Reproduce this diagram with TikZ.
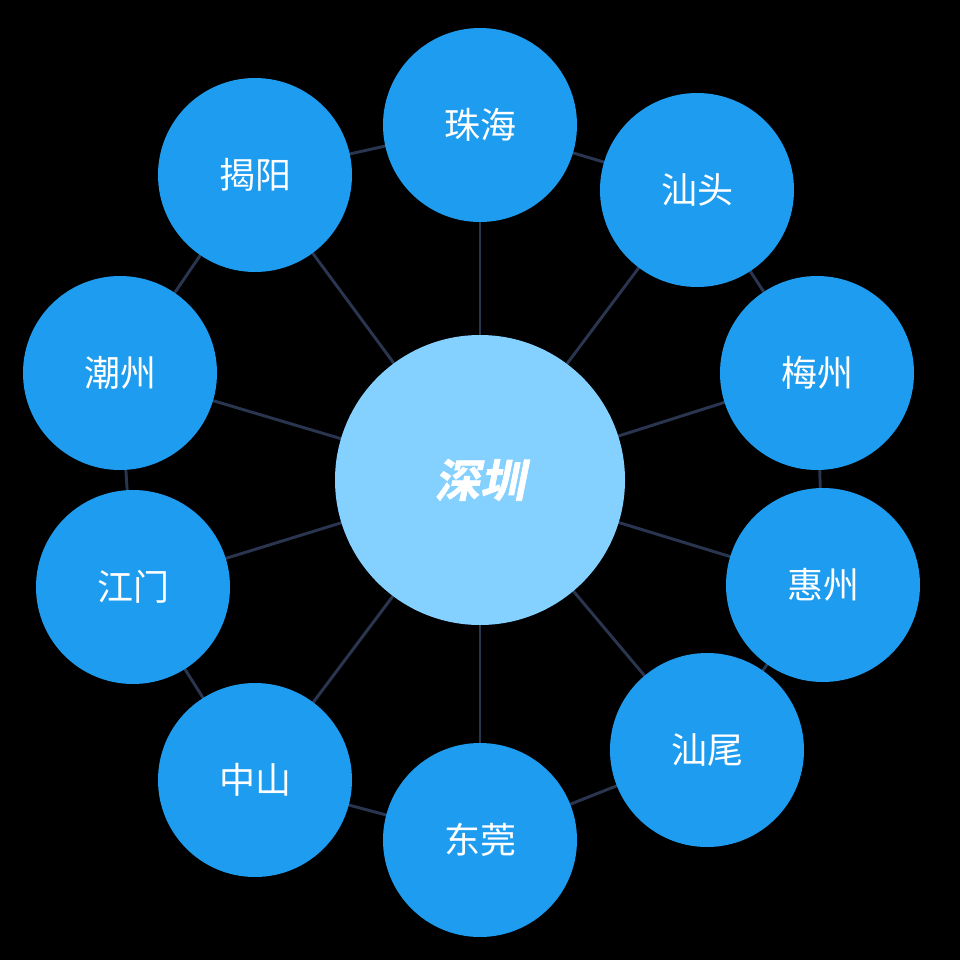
\documentclass[tikz,border=0pt]{standalone}
\usepackage{fontspec}
\newfontfamily\cjk{Noto Sans CJK SC}
\newfontfamily\cjkb[FakeSlant=0.2,FakeBold=1.5]{Noto Sans CJK SC Bold}
\definecolor{outc}{HTML}{1E9CEF}
\definecolor{cenc}{HTML}{84D0FF}
\definecolor{linec}{HTML}{2A3550}
\begin{document}
\begin{tikzpicture}[x=0.75pt,y=-0.75pt,
  city/.style={circle,fill=outc,minimum size=145.5pt,inner sep=0pt,text=white,font=\cjk\fontsize{27}{30}\selectfont},
  hub/.style={circle,fill=cenc,minimum size=217.5pt,inner sep=0pt,text=white,font=\cjkb\fontsize{34}{38}\selectfont},
  link/.style={draw=linec,line width=2.2pt}]
\fill[black] (0,0) rectangle (960,960);
\useasboundingbox (0,0) rectangle (960,960);
\coordinate (c) at (480,480);
\foreach \n/\x/\y/\t in {a/480/125/珠海,b/697/190/汕头,d/817/373/梅州,e/823/585/惠州,f/707/750/汕尾,g/480/840/东莞,h/255/780/中山,i/133/587/江门,j/120/373/潮州,k/255/175/揭阳}
  \coordinate (p\n) at (\x,\y);
\foreach \n in {a,b,d,e,f,g,h,i,j,k} \draw[link] (c) -- (p\n);
\foreach \u/\v in {k/a,a/b,b/d,d/e,e/f,f/g,g/h,h/i,i/j,j/k} \draw[link] (p\u) -- (p\v);
\node[hub] (sz) at (c) {深圳};
\foreach \n/\x/\y/\t in {a/480/125/珠海,b/697/190/汕头,d/817/373/梅州,e/823/585/惠州,f/707/750/汕尾,g/480/840/东莞,h/255/780/中山,i/133/587/江门,j/120/373/潮州,k/255/175/揭阳}
  \node[city] (n\n) at (p\n) {\t};
\end{tikzpicture}
\end{document}
